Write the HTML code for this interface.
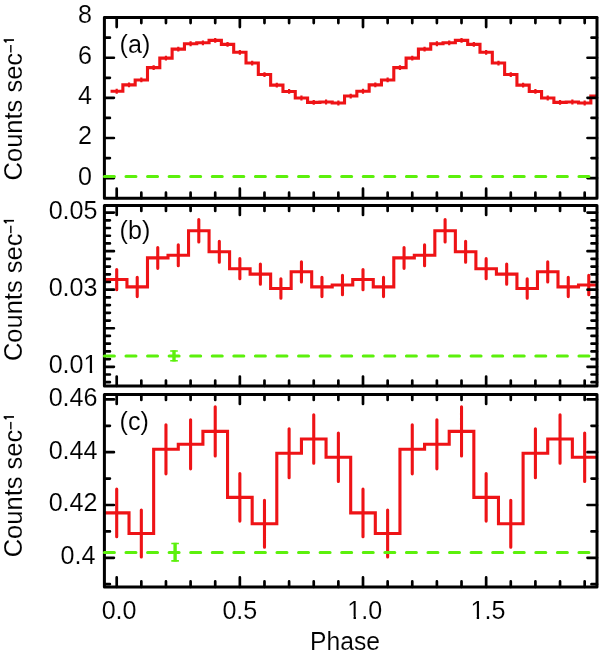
<!DOCTYPE html>
<html><head><meta charset="utf-8"><style>
html,body{margin:0;padding:0;background:#fff;}
svg{display:block;}
text{font-family:"Liberation Sans",sans-serif;fill:#000;stroke:#fff;stroke-width:0.1px;}
</style></head><body>
<svg width="600" height="656" viewBox="0 0 600 656">
<rect width="600" height="656" fill="#fff"/>
<filter id="gs" x="-5%" y="-5%" width="110%" height="110%"><feColorMatrix type="saturate" values="0"/></filter>
<clipPath id="clipa"><rect x="104.4" y="17.6" width="492.6" height="180.6"/></clipPath>
<g clip-path="url(#clipa)">
<path d="M110.54 91.26 H122.86 V84.9 H135.17 V79.93 H147.49 V67.61 H159.8 V58.08 H172.12 V49.14 H184.43 V43.77 H196.75 V42.78 H209.06 V40.39 H221.38 V44.37 H233.69 V52.32 H246.01 V63.04 H258.32 V74.57 H270.64 V85.1 H282.95 V91.46 H295.27 V98.02 H307.58 V102.39 H319.9 V101.99 H332.21 V102.98 H344.53 V96.03 H356.84 V91.26 H369.16 V84.9 H381.47 V79.93 H393.79 V67.61 H406.1 V58.08 H418.42 V49.14 H430.73 V43.77 H443.05 V42.78 H455.36 V40.39 H467.68 V44.37 H479.99 V52.32 H492.31 V63.04 H504.62 V74.57 H516.94 V85.1 H529.25 V91.46 H541.57 V98.02 H553.88 V102.39 H566.2 V101.99 H578.51 V102.98 H590.83 V96.03 H597" fill="none" stroke="#ee1316" stroke-width="3.1" stroke-linejoin="miter" stroke-linecap="butt"/>
<path d="M116.7 88.86V93.66 M129.02 82.5V87.3 M141.33 77.53V82.33 M153.65 65.21V70.02 M165.96 55.68V60.48 M178.28 46.74V51.54 M190.59 41.37V46.17 M202.91 40.38V45.18 M215.22 37.99V42.79 M227.54 41.97V46.77 M239.85 49.92V54.72 M252.17 60.64V65.44 M264.48 72.17V76.97 M276.8 82.7V87.5 M289.11 89.06V93.86 M301.43 95.62V100.42 M313.74 99.99V104.79 M326.06 99.59V104.39 M338.37 100.58V105.38 M350.69 93.63V98.43 M363 88.86V93.66 M375.31 82.5V87.3 M387.63 77.53V82.33 M399.95 65.21V70.02 M412.26 55.68V60.48 M424.57 46.74V51.54 M436.89 41.37V46.17 M449.21 40.38V45.18 M461.52 37.99V42.79 M473.84 41.97V46.77 M486.15 49.92V54.72 M498.47 60.64V65.44 M510.78 72.17V76.97 M523.1 82.7V87.5 M535.41 89.06V93.86 M547.73 95.62V100.42 M560.04 99.99V104.79 M572.36 99.59V104.39 M584.67 100.58V105.38 M596.99 93.63V98.43" stroke="#ee1316" stroke-width="2.2" fill="none"/>
</g>
<path d="M116.7 17.6v9.5 M116.7 198.2v-9.5 M141.33 17.6v5.5 M141.33 198.2v-5.5 M165.96 17.6v5.5 M165.96 198.2v-5.5 M190.59 17.6v5.5 M190.59 198.2v-5.5 M215.22 17.6v5.5 M215.22 198.2v-5.5 M239.85 17.6v9.5 M239.85 198.2v-9.5 M264.48 17.6v5.5 M264.48 198.2v-5.5 M289.11 17.6v5.5 M289.11 198.2v-5.5 M313.74 17.6v5.5 M313.74 198.2v-5.5 M338.37 17.6v5.5 M338.37 198.2v-5.5 M363 17.6v9.5 M363 198.2v-9.5 M387.63 17.6v5.5 M387.63 198.2v-5.5 M412.26 17.6v5.5 M412.26 198.2v-5.5 M436.89 17.6v5.5 M436.89 198.2v-5.5 M461.52 17.6v5.5 M461.52 198.2v-5.5 M486.15 17.6v9.5 M486.15 198.2v-9.5 M510.78 17.6v5.5 M510.78 198.2v-5.5 M535.41 17.6v5.5 M535.41 198.2v-5.5 M560.04 17.6v5.5 M560.04 198.2v-5.5 M584.67 17.6v5.5 M584.67 198.2v-5.5 M104.4 178.1h9.5 M597 178.1h-9.5 M104.4 137.98h9.5 M597 137.98h-9.5 M104.4 97.86h9.5 M597 97.86h-9.5 M104.4 57.74h9.5 M597 57.74h-9.5 M104.4 17.62h9.5 M597 17.62h-9.5 M104.4 158.04h5.5 M597 158.04h-5.5 M104.4 117.92h5.5 M597 117.92h-5.5 M104.4 77.8h5.5 M597 77.8h-5.5 M104.4 37.68h5.5 M597 37.68h-5.5" stroke="#000" stroke-width="2.7" stroke-linecap="round" fill="none"/>
<rect x="104.4" y="17.6" width="492.6" height="180.6" fill="none" stroke="#000" stroke-width="3.0" stroke-linejoin="round"/>
<line x1="102.4" y1="176.5" x2="593" y2="176.5" stroke="#5cf00c" stroke-width="3" stroke-dasharray="10 11.57" stroke-dashoffset="-2.0" stroke-linecap="round"/>
<g filter="url(#gs)"><g transform="translate(92 23.32) scale(0.985 1.03)"><text x="0" y="0" font-size="25.5" text-anchor="end">8</text></g></g>
<g filter="url(#gs)"><g transform="translate(92 64.14) scale(0.985 1.03)"><text x="0" y="0" font-size="25.5" text-anchor="end">6</text></g></g>
<g filter="url(#gs)"><g transform="translate(92 104.26) scale(0.985 1.03)"><text x="0" y="0" font-size="25.5" text-anchor="end">4</text></g></g>
<g filter="url(#gs)"><g transform="translate(92 144.38) scale(0.985 1.03)"><text x="0" y="0" font-size="25.5" text-anchor="end">2</text></g></g>
<g filter="url(#gs)"><g transform="translate(92 184.5) scale(0.985 1.03)"><text x="0" y="0" font-size="25.5" text-anchor="end">0</text></g></g>
<clipPath id="clipb"><rect x="104.4" y="205.4" width="492.6" height="180.6"/></clipPath>
<g clip-path="url(#clipb)">
<path d="M104.4 279.56 H126.96 V286.92 H147.49 V257.89 H168.01 V255.18 H188.54 V230.8 H209.06 V251.7 H229.59 V268.73 H250.11 V274.15 H270.64 V288.47 H291.16 V271.82 H311.69 V286.92 H332.21 V284.98 H352.74 V279.56 H373.26 V286.92 H393.79 V257.89 H414.31 V255.18 H434.84 V230.8 H455.36 V251.7 H475.89 V268.73 H496.41 V274.15 H516.94 V288.47 H537.46 V271.82 H557.99 V286.92 H578.51 V284.98 H597" fill="none" stroke="#ee1316" stroke-width="3.1"/>
<path d="M116.7 269.5V289.63 M137.22 277.24V296.59 M157.75 247.44V268.34 M178.28 244.73V265.63 M198.8 219.58V242.02 M219.32 241.25V262.15 M239.85 258.67V278.79 M260.38 264.08V284.21 M280.9 278.79V298.14 M301.43 261.76V281.89 M321.95 277.24V296.59 M342.48 275.31V294.66 M363 269.5V289.63 M383.52 277.24V296.59 M404.05 247.44V268.34 M424.57 244.73V265.63 M445.1 219.58V242.02 M465.62 241.25V262.15 M486.15 258.67V278.79 M506.68 264.08V284.21 M527.2 278.79V298.14 M547.73 261.76V281.89 M568.25 277.24V296.59 M588.77 275.31V294.66" stroke="#ee1316" stroke-width="3.1" fill="none" stroke-linecap="round"/>
</g>
<path d="M116.7 205.4v9.5 M116.7 386v-9.5 M141.33 205.4v5.5 M141.33 386v-5.5 M165.96 205.4v5.5 M165.96 386v-5.5 M190.59 205.4v5.5 M190.59 386v-5.5 M215.22 205.4v5.5 M215.22 386v-5.5 M239.85 205.4v9.5 M239.85 386v-9.5 M264.48 205.4v5.5 M264.48 386v-5.5 M289.11 205.4v5.5 M289.11 386v-5.5 M313.74 205.4v5.5 M313.74 386v-5.5 M338.37 205.4v5.5 M338.37 386v-5.5 M363 205.4v9.5 M363 386v-9.5 M387.63 205.4v5.5 M387.63 386v-5.5 M412.26 205.4v5.5 M412.26 386v-5.5 M436.89 205.4v5.5 M436.89 386v-5.5 M461.52 205.4v5.5 M461.52 386v-5.5 M486.15 205.4v9.5 M486.15 386v-9.5 M510.78 205.4v5.5 M510.78 386v-5.5 M535.41 205.4v5.5 M535.41 386v-5.5 M560.04 205.4v5.5 M560.04 386v-5.5 M584.67 205.4v5.5 M584.67 386v-5.5 M104.4 366.8h9.5 M597 366.8h-9.5 M104.4 328.25h9.5 M597 328.25h-9.5 M104.4 289.7h9.5 M597 289.7h-9.5 M104.4 251.15h9.5 M597 251.15h-9.5 M104.4 212.6h9.5 M597 212.6h-9.5 M104.4 382.22h5.5 M597 382.22h-5.5 M104.4 374.51h5.5 M597 374.51h-5.5 M104.4 359.09h5.5 M597 359.09h-5.5 M104.4 351.38h5.5 M597 351.38h-5.5 M104.4 343.67h5.5 M597 343.67h-5.5 M104.4 335.96h5.5 M597 335.96h-5.5 M104.4 320.54h5.5 M597 320.54h-5.5 M104.4 312.83h5.5 M597 312.83h-5.5 M104.4 305.12h5.5 M597 305.12h-5.5 M104.4 297.41h5.5 M597 297.41h-5.5 M104.4 281.99h5.5 M597 281.99h-5.5 M104.4 274.28h5.5 M597 274.28h-5.5 M104.4 266.57h5.5 M597 266.57h-5.5 M104.4 258.86h5.5 M597 258.86h-5.5 M104.4 243.44h5.5 M597 243.44h-5.5 M104.4 235.73h5.5 M597 235.73h-5.5 M104.4 228.02h5.5 M597 228.02h-5.5 M104.4 220.31h5.5 M597 220.31h-5.5" stroke="#000" stroke-width="2.7" stroke-linecap="round" fill="none"/>
<rect x="104.4" y="205.4" width="492.6" height="180.6" fill="none" stroke="#000" stroke-width="3.0" stroke-linejoin="round"/>
<line x1="102.4" y1="355.9" x2="593" y2="355.9" stroke="#5cf00c" stroke-width="3" stroke-dasharray="10 11.57" stroke-dashoffset="-2.0" stroke-linecap="round"/>
<g filter="url(#gs)"><g transform="translate(97.5 219) scale(0.985 1.03)"><text x="0" y="0" font-size="25.5" text-anchor="end">0.05</text></g></g>
<g filter="url(#gs)"><g transform="translate(97.5 296.1) scale(0.985 1.03)"><text x="0" y="0" font-size="25.5" text-anchor="end">0.03</text></g></g>
<g filter="url(#gs)"><g transform="translate(97.5 373.2) scale(0.985 1.03)"><text x="0" y="0" font-size="25.5" text-anchor="end">0.01</text><rect x="-12.9" y="-2.6" width="5.05" height="3.4" fill="#fff"/><rect x="-5.43" y="-2.6" width="4.84" height="3.4" fill="#fff"/></g></g>
<clipPath id="clipc"><rect x="104.4" y="394.4" width="492.6" height="192.5"/></clipPath>
<g clip-path="url(#clipc)">
<path d="M104.4 512.92 H129.02 V533.51 H153.65 V449.3 H178.28 V444.28 H202.91 V431.34 H227.54 V497.34 H252.17 V523.74 H276.8 V453.26 H301.43 V439 H326.06 V457.22 H350.69 V512.92 H375.31 V533.51 H399.95 V449.3 H424.58 V444.28 H449.21 V431.34 H473.84 V497.34 H498.47 V523.74 H523.1 V453.26 H547.73 V439 H572.36 V457.22 H596.99" fill="none" stroke="#ee1316" stroke-width="3.1"/>
<path d="M116.7 489.16V536.68 M141.33 510.02V557.01 M165.96 424.74V473.85 M190.59 419.73V468.83 M215.22 406.79V455.9 M239.85 473.58V521.1 M264.48 500.25V547.24 M289.11 428.7V477.81 M313.74 414.71V463.29 M338.37 432.93V481.5 M363 489.16V536.68 M387.63 510.02V557.01 M412.26 424.74V473.85 M436.89 419.73V468.83 M461.52 406.79V455.9 M486.15 473.58V521.1 M510.78 500.25V547.24 M535.41 428.7V477.81 M560.04 414.71V463.29 M584.67 432.93V481.5" stroke="#ee1316" stroke-width="3.1" fill="none" stroke-linecap="round"/>
</g>
<path d="M116.7 394.4v9.5 M116.7 586.9v-9.5 M141.33 394.4v5.5 M141.33 586.9v-5.5 M165.96 394.4v5.5 M165.96 586.9v-5.5 M190.59 394.4v5.5 M190.59 586.9v-5.5 M215.22 394.4v5.5 M215.22 586.9v-5.5 M239.85 394.4v9.5 M239.85 586.9v-9.5 M264.48 394.4v5.5 M264.48 586.9v-5.5 M289.11 394.4v5.5 M289.11 586.9v-5.5 M313.74 394.4v5.5 M313.74 586.9v-5.5 M338.37 394.4v5.5 M338.37 586.9v-5.5 M363 394.4v9.5 M363 586.9v-9.5 M387.63 394.4v5.5 M387.63 586.9v-5.5 M412.26 394.4v5.5 M412.26 586.9v-5.5 M436.89 394.4v5.5 M436.89 586.9v-5.5 M461.52 394.4v5.5 M461.52 586.9v-5.5 M486.15 394.4v9.5 M486.15 586.9v-9.5 M510.78 394.4v5.5 M510.78 586.9v-5.5 M535.41 394.4v5.5 M535.41 586.9v-5.5 M560.04 394.4v5.5 M560.04 586.9v-5.5 M584.67 394.4v5.5 M584.67 586.9v-5.5 M104.4 557.8h9.5 M597 557.8h-9.5 M104.4 505h9.5 M597 505h-9.5 M104.4 452.2h9.5 M597 452.2h-9.5 M104.4 399.4h9.5 M597 399.4h-9.5 M104.4 584.2h5.5 M597 584.2h-5.5 M104.4 531.4h5.5 M597 531.4h-5.5 M104.4 478.6h5.5 M597 478.6h-5.5 M104.4 425.8h5.5 M597 425.8h-5.5" stroke="#000" stroke-width="2.7" stroke-linecap="round" fill="none"/>
<rect x="104.4" y="394.4" width="492.6" height="192.5" fill="none" stroke="#000" stroke-width="3.0" stroke-linejoin="round"/>
<line x1="102.4" y1="552.6" x2="593" y2="552.6" stroke="#5cf00c" stroke-width="3" stroke-dasharray="10 11.57" stroke-dashoffset="-2.0" stroke-linecap="round"/>
<g filter="url(#gs)"><g transform="translate(97.5 405.8) scale(0.985 1.03)"><text x="0" y="0" font-size="25.5" text-anchor="end">0.46</text></g></g>
<g filter="url(#gs)"><g transform="translate(97.5 458.6) scale(0.985 1.03)"><text x="0" y="0" font-size="25.5" text-anchor="end">0.44</text></g></g>
<g filter="url(#gs)"><g transform="translate(97.5 511.4) scale(0.985 1.03)"><text x="0" y="0" font-size="25.5" text-anchor="end">0.42</text></g></g>
<g filter="url(#gs)"><g transform="translate(95.5 564.2) scale(0.985 1.03)"><text x="0" y="0" font-size="25.5" text-anchor="end">0.4</text></g></g>
<path d="M174 350.3V361.5" stroke="#5cf00c" stroke-width="3.4" fill="none"/>
<path d="M170.2 351h7.6M170.2 360.8h7.6" stroke="#5cf00c" stroke-width="1.6" fill="none"/>
<path d="M175.1 542.8V561.6" stroke="#5cf00c" stroke-width="3.4" fill="none"/>
<path d="M171.3 543.5h7.6M171.3 560.9h7.6" stroke="#5cf00c" stroke-width="1.6" fill="none"/>
<g filter="url(#gs)"><g transform="translate(119.6 52.6) scale(0.985 1.03)"><text x="0" y="0" font-size="25.5">(a)</text></g></g>
<g filter="url(#gs)"><g transform="translate(119.6 239.4) scale(0.985 1.03)"><text x="0" y="0" font-size="25.5">(b)</text></g></g>
<g filter="url(#gs)"><g transform="translate(119.6 430) scale(0.985 1.03)"><text x="0" y="0" font-size="25.5">(c)</text></g></g>
<g filter="url(#gs)"><g transform="translate(22.4 180.4) rotate(-90) scale(1 1.04)"><text x="0" y="0" font-size="25.5">Counts sec</text><rect x="127.9" y="-11.8" width="7.5" height="1.35" fill="#000"/><rect x="139.5" y="-18.0" width="1.7" height="9.9" fill="#000"/><path d="M140.1 -17.4L138.0 -15.3" stroke="#000" stroke-width="1.5" fill="none"/></g></g>
<g filter="url(#gs)"><g transform="translate(22.4 361.1) rotate(-90) scale(1 1.04)"><text x="0" y="0" font-size="25.5">Counts sec</text><rect x="127.9" y="-11.8" width="7.5" height="1.35" fill="#000"/><rect x="139.5" y="-18.0" width="1.7" height="9.9" fill="#000"/><path d="M140.1 -17.4L138.0 -15.3" stroke="#000" stroke-width="1.5" fill="none"/></g></g>
<g filter="url(#gs)"><g transform="translate(22.4 557.3) rotate(-90) scale(1 1.04)"><text x="0" y="0" font-size="25.5">Counts sec</text><rect x="127.9" y="-11.8" width="7.5" height="1.35" fill="#000"/><rect x="139.5" y="-18.0" width="1.7" height="9.9" fill="#000"/><path d="M140.1 -17.4L138.0 -15.3" stroke="#000" stroke-width="1.5" fill="none"/></g></g>
<g filter="url(#gs)"><g transform="translate(119.1 619) scale(0.985 1.03)"><text x="0" y="0" font-size="25.5" text-anchor="middle">0.0</text></g></g>
<g filter="url(#gs)"><g transform="translate(239.85 619) scale(0.985 1.03)"><text x="0" y="0" font-size="25.5" text-anchor="middle">0.5</text></g></g>
<g filter="url(#gs)"><g transform="translate(364.8 619) scale(0.985 1.03)"><text x="0" y="0" font-size="25.5" text-anchor="middle">1.0</text><rect x="-16.45" y="-2.6" width="5.05" height="3.4" fill="#fff"/><rect x="-8.98" y="-2.6" width="4.84" height="3.4" fill="#fff"/></g></g>
<g filter="url(#gs)"><g transform="translate(487.95 619) scale(0.985 1.03)"><text x="0" y="0" font-size="25.5" text-anchor="middle">1.5</text><rect x="-16.45" y="-2.6" width="5.05" height="3.4" fill="#fff"/><rect x="-8.98" y="-2.6" width="4.84" height="3.4" fill="#fff"/></g></g>
<g filter="url(#gs)"><g transform="translate(345 650.3) scale(0.985 1.03)"><text x="0" y="0" font-size="25.0" text-anchor="middle">Phase</text></g></g>
</svg>
</body></html>
